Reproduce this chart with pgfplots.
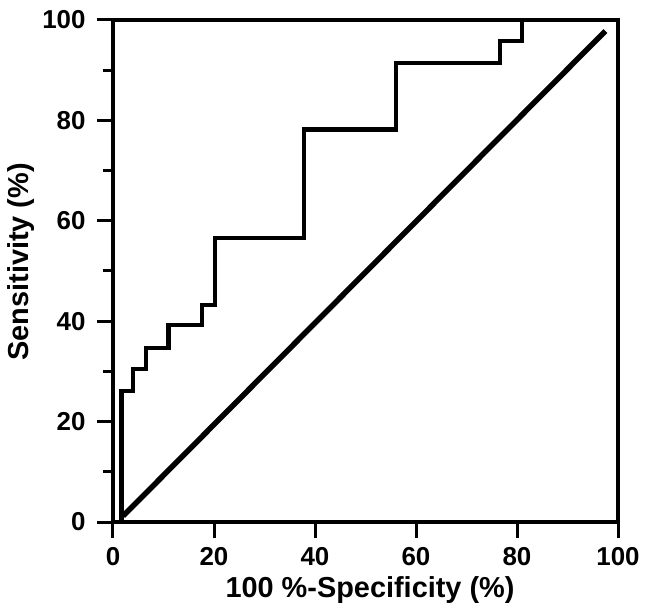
\documentclass[border=0pt]{standalone}
\usepackage{fontspec}
\setmainfont{Liberation Sans}
\usepackage{pgfplots}
\pgfplotsset{compat=1.18}
\begin{document}
\begin{tikzpicture}
\path[use as bounding box] (-113bp,-92bp) rectangle (533bp,522bp);
\begin{axis}[
  at={(0,0)}, anchor=south west,
  scale only axis,
  width=505bp, height=502bp,
  xmin=0, xmax=100, ymin=0, ymax=100,
  xtick={0,20,40,60,80,100},
  ytick={0,20,40,60,80,100},
  minor ytick={10,30,50,70,90},
  tick pos=left,
  tick align=outside,
  major tick length=16bp,
  minor tick length=10bp,
  every tick/.style={black, line width=3bp},
  axis line style={line width=4bp, black},
  /pgf/number format/assume math mode=true,
  tick label style={font=\fontsize{26}{31}\selectfont\bfseries},
  xticklabel style={yshift=-6bp},
  yticklabel style={xshift=-8bp},
  xlabel={100 \%-Specificity (\%)},
  ylabel={Sensitivity (\%)},
  label style={font=\fontsize{29}{34}\selectfont\bfseries},
  xlabel style={at={(axis description cs:0.509,-0.151)}, anchor=base},
  ylabel style={at={(axis description cs:-0.182,0.518)}, anchor=center},
  clip=false,
]
\addplot[black, line width=4.2bp, line join=miter] coordinates {
  (0,0) (1.7,0) (1.7,26.1) (3.9,26.1) (3.9,30.4) (6.6,30.4) (6.6,34.7)
  (11.0,34.7) (11.0,39.3) (17.6,39.3) (17.6,43.3) (20.2,43.3) (20.2,56.5)
  (37.9,56.5) (37.9,78.2) (56.0,78.2) (56.0,91.4) (76.6,91.4) (76.6,95.8)
  (81.0,95.8) (81.0,100) (100,100)
};
\addplot[black, line width=5.5bp] coordinates {(2,1.2) (97.5,97.8)};
\end{axis}
\end{tikzpicture}
\end{document}
